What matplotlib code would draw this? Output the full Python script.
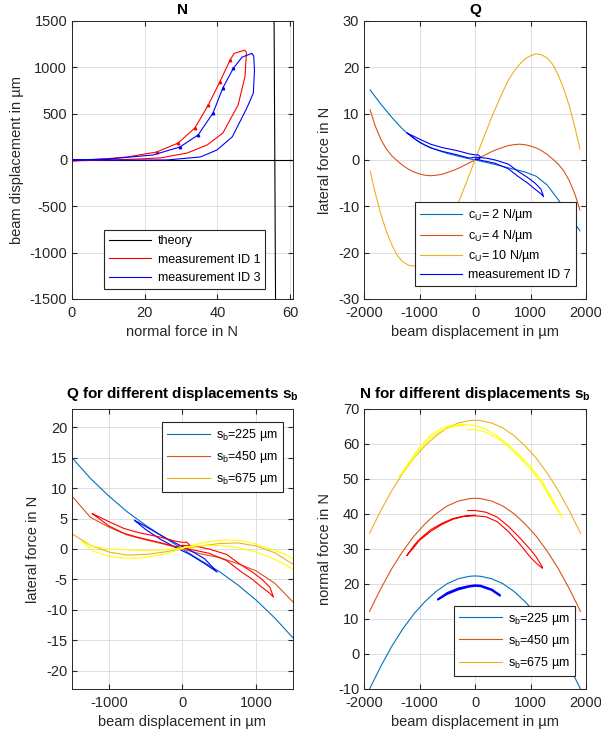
import numpy as np
import matplotlib
matplotlib.use("Agg")
import matplotlib.pyplot as plt

plt.rcParams['font.family'] = ['Liberation Sans', 'DejaVu Sans']
plt.rcParams['mathtext.fontset'] = 'custom'
plt.rcParams['mathtext.rm'] = 'Liberation Sans'
plt.rcParams['mathtext.bf'] = 'Liberation Sans:bold'
plt.rcParams['axes.unicode_minus'] = False

# MATLAB default colours
C1 = '#0072BD'
C2 = '#D95319'
C3 = '#EDB120'
DARK = '#262626'

# ---- panel 1: N (normal force vs beam displacement)
theory_N = [56.0, 55.6]
theory_s = [-1500, 1500]

id1_N = [0, 10, 15.2, 23.3, 29.2, 33.8, 37.5, 40.7, 43.5, 44.6, 47.5, 48.0,
         47.9, 47.6, 45.7, 41.5, 37.2, 31.7, 24.3, 15, 5, 0]
id1_s = [-10, 15, 32, 86, 183, 345, 593, 845, 1079, 1150, 1185, 1160,
         1100, 900, 593, 290, 162, 75, 22, 5, -5, -10]

id3_N = [0, 0, 10.1, 22.3, 29.7, 34.7, 38.8, 41.5, 44.4, 46.8, 49.5, 50.0,
         50.2, 49.9, 48.1, 44.1, 39.9, 35.3, 26.1, 10, 0]
id3_s = [20, 0, 10, 54, 140, 270, 507, 777, 990, 1110, 1150, 1120,
         970, 722, 560, 250, 108, 32, 0, -2, 0]

# ---- panel 2: Q (lateral force vs beam displacement)
cu2_x = [-1890, -1700, -1500, -1300, -1100, -900, -700, -500, -300, -100, 0,
         100, 300, 500, 700, 900, 1100, 1300, 1500, 1700, 1890]
cu2_y = [15.1, 12.1, 9.2, 6.6, 4.6, 3.2, 2.2, 1.4, 0.8, 0.25, 0,
         -0.25, -0.8, -1.4, -2.0, -2.6, -3.5, -5.4, -8.6, -12.0, -15.3]

cu4_x = [-1890, -1800, -1700, -1600, -1500, -1400, -1300, -1200, -1100, -1000, -900, -800,
         -700, -600, -500, -400, -300, -200, -100, 0,
         100, 200, 300, 400, 500, 600, 700, 800, 900, 1000, 1100, 1200,
         1300, 1400, 1500, 1600, 1700, 1800, 1890]
cu4_y = [10.8, 7.4, 4.5, 2.4, 0.9, -0.2, -1.2, -2.0, -2.6, -3.0, -3.3, -3.4,
         -3.3, -3.1, -2.7, -2.3, -1.8, -1.2, -0.6, 0,
         0.6, 1.2, 1.8, 2.3, 2.7, 3.1, 3.3, 3.4, 3.3, 3.0, 2.6, 2.0,
         1.2, 0.2, -0.9, -2.4, -4.5, -7.4, -10.8]

cu10_x = [-1890, -1800, -1700, -1600, -1500, -1400, -1300, -1200, -1100, -1000, -900, -800,
          -700, -600, -500, -400, -300, -200, -100, 0,
          100, 200, 300, 400, 500, 600, 700, 800, 900, 1000, 1100, 1200,
          1300, 1400, 1500, 1600, 1700, 1800, 1890]
cu10_y = [-2.4, -7.0, -11.6, -15.3, -18.3, -20.6, -22.0, -22.7, -22.9, -22.5, -21.8, -20.6,
          -19.1, -17.2, -14.7, -12.0, -9.2, -6.2, -3.1, 0,
          3.1, 6.2, 9.2, 12.0, 14.7, 17.2, 19.1, 20.6, 21.8, 22.5, 22.9, 22.7,
          22.0, 20.6, 18.3, 15.3, 11.6, 7.0, 2.4]

id7_x = [-1223, -1000, -800, -600, -320, -100, 0, 60, 100, 60, 0,
         200, 360, 600, 781, 950, 1081, 1187, 1235,
         1187, 1081, 950, 781, 600, 360, 200, 0,
         -100, -320, -600, -800, -1000, -1223]
id7_y = [5.8, 4.5, 3.4, 2.7, 2.0, 1.3, 1.1, 1.1, 0.6, 0.1, 0.2,
         -0.3, -0.7, -1.9, -3.6, -5.0, -6.3, -7.3, -7.9,
         -6.3, -5.0, -3.8, -2.5, -0.9, 0.0, 0.4, 0.6,
         0.4, 1.1, 1.9, 2.6, 3.8, 5.8]

# ---- panel 3: Q for different displacements s_b
q_x = [-1500, -1250, -1000, -750, -500, -250, 0, 250, 500, 750, 1000, 1250, 1500]
q225 = [15.0, 11.6, 8.7, 6.1, 3.9, 1.9, 0, -1.9, -3.7, -5.9, -8.4, -11.3, -14.6]
q450 = [8.7, 5.2, 3.6, 2.3, 1.5, 0.8, 0, -0.8, -1.4, -2.4, -3.6, -5.6, -8.7]
q675 = [2.5, 0.6, -0.5, -1.0, -0.9, -0.5, 0, 0.5, 0.9, 1.0, 0.5, -0.6, -2.5]

m225_x = [-650, -500, -300, -100, 0, 100, 300, 472, 300, 100, 0, -100, -300, -500, -650]
m225_y = [4.7, 3.7, 2.3, 1.0, 0.4, -0.2, -1.6, -3.8, -2.4, -0.9, -0.3, 0.3, 1.6, 3.2, 4.7]

m675_x = [-1364, -1200, -1000, -800, -600, -400, -200, 0, 200, 400, 600, 800, 1000, 1200, 1400, 1580,
          1580, 1400, 1200, 1000, 800, 600, 400, 200, 0, -200, -400, -600, -800, -1000, -1200, -1364]
m675_y = [1.2, -0.4, -1.2, -1.5, -1.5, -1.2, -0.7, 0.1, 0.8, 1.3, 1.5, 1.4, 0.8, 0.0, -0.9, -2.2,
          -4.0, -2.6, -1.4, -0.5, 0.1, 0.5, 0.6, 0.5, 0.2, -0.1, -0.2, -0.2, -0.1, 0.0, 0.4, 1.2]

# ---- panel 4: N for different displacements s_b
n_x = [-1900, -1700, -1500, -1300, -1100, -900, -700, -500, -300, -100, 0,
       100, 300, 500, 700, 900, 1100, 1300, 1500, 1700, 1900]
n225 = [-10.0, -3.6, 2.2, 7.2, 11.5, 15.0, 17.9, 20.1, 21.5, 22.2, 22.3,
        22.2, 21.5, 20.1, 17.9, 15.0, 11.5, 7.2, 2.2, -3.6, -10.0]
n450 = [12.2, 18.6, 24.4, 29.4, 33.7, 37.2, 40.1, 42.3, 43.7, 44.4, 44.5,
        44.4, 43.7, 42.3, 40.1, 37.2, 33.7, 29.4, 24.4, 18.6, 12.2]
n675 = [34.5, 40.9, 46.7, 51.7, 56.0, 59.5, 62.4, 64.6, 66.0, 66.7, 66.8,
        66.7, 66.0, 64.6, 62.4, 59.5, 56.0, 51.7, 46.7, 40.9, 34.5]

mn225_x = [-667, -500, -300, -100, 0, 100, 300, 450, 450, 300, 100, 0, -100, -300, -500, -667]
mn225_y = [15.7, 17.5, 18.8, 19.5, 19.7, 19.6, 18.5, 16.9, 16.6, 18.2, 19.3, 19.4, 19.2, 18.4, 17.1, 15.5]

mn450_x = [-129, 0, 200, 400, 600, 800, 1000, 1100, 1215,
           1215, 1100, 1000, 800, 600, 400, 200, 0, -200, -400, -600, -800, -1000, -1100, -1231,
           -1100, -1000, -800, -600, -400, -200, 0]
mn450_y = [41.0, 41.0, 40.5, 39.1, 36.5, 33.3, 29.8, 27.8, 24.8,
           24.5, 26.0, 27.6, 31.5, 35.0, 37.8, 39.2, 39.5, 39.3, 38.5, 37.0, 35.0, 32.5, 30.5, 28.1,
           31.0, 32.8, 35.5, 37.3, 38.7, 39.4, 39.7]

mn675_x = [-200, -400, -600, -800, -1000, -1200, -1369,
           -1200, -1000, -800, -600, -400, -200, 0, 200, 400, 600, 800, 1000, 1200, 1400, 1580,
           1400, 1200, 1000, 800, 600, 400, 200, 0, -139]
mn675_y = [65.3, 65.0, 63.9, 61.8, 58.2, 54.0, 50.5,
           54.5, 59.0, 62.5, 64.5, 65.4, 65.6, 65.3, 64.2, 62.3, 59.7, 56.8, 53.5, 49.5, 44.0, 38.8,
           43.3, 48.8, 52.8, 56.2, 59.2, 61.7, 63.3, 64.1, 64.1]


def style_axes(ax, title, pad=5):
    ax.set_title(title, fontsize=11, fontweight='bold', pad=pad, color='black')
    ax.grid(True, color='#dedede', linewidth=0.7)
    ax.set_axisbelow(True)
    ax.tick_params(direction='in', length=3.5, labelsize=10.5, colors=DARK,
                   top=True, right=True, labeltop=False, labelright=False)
    ax.tick_params(axis='x', pad=5)
    for sp in ax.spines.values():
        sp.set_color(DARK)
        sp.set_linewidth(0.7)


def add_legend(ax, loc, anchor, spacing=0.5):
    leg = ax.legend(loc=loc, bbox_to_anchor=anchor, fontsize=9, fancybox=False,
                    edgecolor=DARK, framealpha=1, handlelength=3.4, borderpad=0.4,
                    labelspacing=spacing, handletextpad=0.5, borderaxespad=0)
    leg.get_frame().set_linewidth(0.8)


fig = plt.figure(figsize=(6.01, 7.38), dpi=100)
ax1 = fig.add_axes([0.1198, 0.5949, 0.3677, 0.3767])
ax2 = fig.add_axes([0.6057, 0.5949, 0.3694, 0.3767])
ax3 = fig.add_axes([0.1198, 0.0664, 0.3677, 0.3794])
ax4 = fig.add_axes([0.6057, 0.0664, 0.3694, 0.3794])

lw_t = 0.8
lw_m = 0.8

# panel 1
ax1.plot(theory_N, theory_s, color='black', lw=lw_t, label='theory')
ax1.axhline(0, color='black', lw=lw_t)
ax1.plot(id1_N, id1_s, color='red', lw=lw_m, label='measurement ID 1')
ax1.plot(id1_N[3:9], id1_s[3:9], ls='none', marker='^', ms=1.8, color='red')
ax1.plot(id3_N, id3_s, color='blue', lw=lw_m, label='measurement ID 3')
ax1.plot(id3_N[4:9], id3_s[4:9], ls='none', marker='^', ms=1.8, color='blue')
ax1.set_xlim(0, 60.8)
ax1.set_ylim(-1500, 1500)
ax1.set_xticks([0, 20, 40, 60])
ax1.set_yticks(np.arange(-1500, 1501, 500))
ax1.set_xlabel('normal force in N', fontsize=10.5, color=DARK)
ax1.set_ylabel('beam displacement in µm', fontsize=10.5, color=DARK)
style_axes(ax1, 'N')
add_legend(ax1, 'lower right', (0.875, 0.036))

# panel 2
ax2.plot(cu2_x, cu2_y, color=C1, lw=lw_t, label=r'c$_\mathrm{U}$= 2 N/µm')
ax2.plot(cu4_x, cu4_y, color=C2, lw=lw_t, label=r'c$_\mathrm{U}$= 4 N/µm')
ax2.plot(cu10_x, cu10_y, color=C3, lw=lw_t, label=r'c$_\mathrm{U}$= 10 N/µm')
ax2.plot(id7_x, id7_y, color='blue', lw=lw_m, label='measurement ID 7')
ax2.set_xlim(-2000, 2000)
ax2.set_ylim(-30, 30)
ax2.set_xticks([-2000, -1000, 0, 1000, 2000])
ax2.set_yticks(np.arange(-30, 31, 10))
ax2.set_xlabel('beam displacement in µm', fontsize=10.5, color=DARK)
ax2.set_ylabel('lateral force in N', fontsize=10.5, color=DARK)
style_axes(ax2, 'Q')
add_legend(ax2, 'lower right', (0.955, 0.047), spacing=0.36)

# panel 3
ax3.plot(q_x, q225, color=C1, lw=lw_t, label=r's$_\mathrm{b}$=225 µm')
ax3.plot(q_x, q450, color=C2, lw=lw_t, label=r's$_\mathrm{b}$=450 µm')
ax3.plot(q_x, q675, color=C3, lw=lw_t, label=r's$_\mathrm{b}$=675 µm')
ax3.plot(m225_x, m225_y, color='blue', lw=lw_m)
ax3.plot(id7_x, id7_y, color='red', lw=lw_m)
ax3.plot(m675_x, m675_y, color='#FFFF00', lw=lw_m)
ax3.set_xlim(-1500, 1500)
ax3.set_ylim(-23, 23)
ax3.set_xticks([-1000, 0, 1000])
ax3.set_yticks(np.arange(-20, 21, 5))
ax3.set_xlabel('beam displacement in µm', fontsize=10.5, color=DARK)
ax3.set_ylabel('lateral force in N', fontsize=10.5, color=DARK)
style_axes(ax3, r'Q for different displacements s$_\mathbf{b}$', pad=8)
add_legend(ax3, 'upper right', (0.955, 0.954))

# panel 4
ax4.plot(n_x, n225, color=C1, lw=lw_t, label=r's$_\mathrm{b}$=225 µm')
ax4.plot(n_x, n450, color=C2, lw=lw_t, label=r's$_\mathrm{b}$=450 µm')
ax4.plot(n_x, n675, color=C3, lw=lw_t, label=r's$_\mathrm{b}$=675 µm')
ax4.plot(mn225_x, mn225_y, color='blue', lw=1.1)
ax4.plot(mn450_x, mn450_y, color='red', lw=lw_m)
ax4.plot(mn675_x, mn675_y, color='#FFFF00', lw=lw_m)
ax4.set_xlim(-2000, 2000)
ax4.set_ylim(-10, 70)
ax4.set_xticks([-2000, -1000, 0, 1000, 2000])
ax4.set_yticks(np.arange(-10, 71, 10))
ax4.set_xlabel('beam displacement in µm', fontsize=10.5, color=DARK)
ax4.set_ylabel('normal force in N', fontsize=10.5, color=DARK)
style_axes(ax4, r'N for different displacements s$_\mathbf{b}$', pad=8)
add_legend(ax4, 'lower right', (0.95, 0.046))

fig.savefig('out.png', dpi=100)
